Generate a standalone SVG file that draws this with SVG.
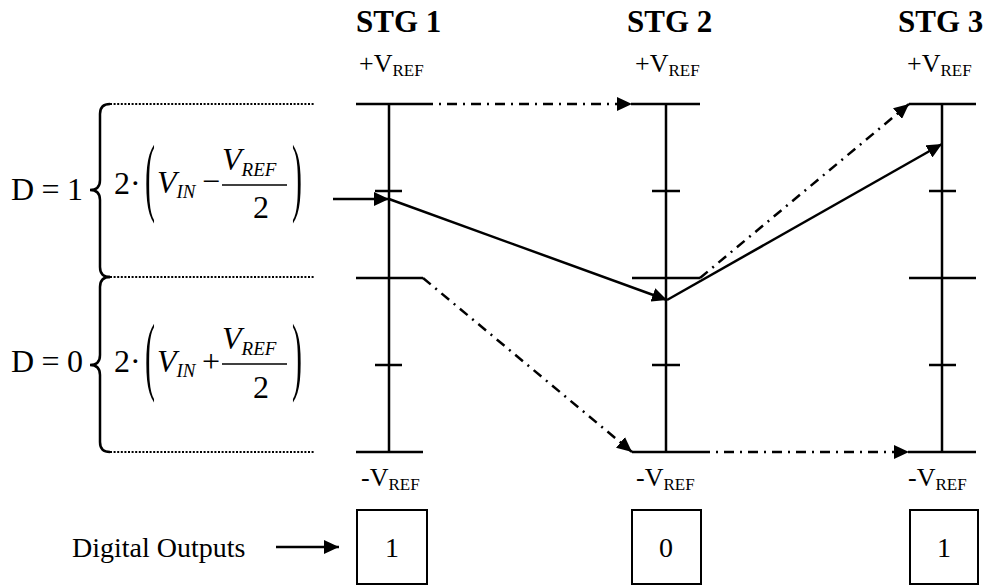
<svg xmlns="http://www.w3.org/2000/svg" width="988" height="586" viewBox="0 0 988 586" font-family="'Liberation Serif', 'Times New Roman', serif">
<style>
text{font-family:"Liberation Serif","Times New Roman",serif;fill:#000}
.ln{stroke:#000;stroke-width:2.5;fill:none}
.dd{stroke:#000;stroke-width:2.5;fill:none;stroke-dasharray:10 6 2 6}
.dot{stroke:#000;stroke-width:2;fill:none;stroke-dasharray:2 1.6}
.stg{font-weight:bold;font-size:31px}
.ref{font-size:26px}
.it{font-style:italic}
.box{stroke:#000;stroke-width:2;fill:#fff}
</style>
<defs>
<marker id="ah" viewBox="0 0 15 14" refX="15" refY="7" markerWidth="15" markerHeight="14" markerUnits="userSpaceOnUse" orient="auto"><path d="M0,0 L15,7 L0,14 z" fill="#000"/></marker>
</defs>

<g id="stage1">
<text class="stg" x="356" y="32">STG 1</text>
<text class="ref" x="359" y="72">+V<tspan font-size="17" dy="4">REF</tspan></text>
<path class="ln" d="M389,104 V452 M356,104 H423 M356,278 H423 M356,452 H423 M375,191 H402 M375,365 H402"/>
<text class="ref" x="361" y="486">-V<tspan font-size="17" dy="4">REF</tspan></text>
</g>

<g id="stage2">
<text class="stg" x="627" y="32">STG 2</text>
<text class="ref" x="635" y="72">+V<tspan font-size="17" dy="4">REF</tspan></text>
<path class="ln" d="M666,104 V452 M632,104 H700 M632,278 H700 M632,452 H700 M652,191 H680 M652,365 H680"/>
<text class="ref" x="636" y="486">-V<tspan font-size="17" dy="4">REF</tspan></text>
</g>

<g id="stage3">
<text class="stg" x="898" y="32">STG 3</text>
<text class="ref" x="907" y="72">+V<tspan font-size="17" dy="4">REF</tspan></text>
<path class="ln" d="M942,104 V452 M909,104 H976 M909,278 H976 M909,452 H976 M929,191 H956 M929,365 H956"/>
<text class="ref" x="908" y="486">-V<tspan font-size="17" dy="4">REF</tspan></text>
</g>

<g id="eq-d1">
<text x="11" y="200" font-size="32" textLength="72" lengthAdjust="spacing">D = 1</text>
<path class="ln" d="M110,104 Q100,104 100,114 V180 Q100,190 90,190 Q100,190 100,200 V267 Q100,277 110,277"/>
<path class="dot" d="M110,104 H315 M110,277 H315"/>
<text x="114" y="194" font-size="32">2·</text>
<text font-size="30" transform="translate(145,205) scale(1,2.9)">(</text>
<text x="157" y="193" font-size="32" class="it">V<tspan font-size="19" dy="5">IN</tspan></text>
<text x="202" y="192" font-size="32">−</text>
<text x="222" y="170" font-size="32" class="it">V<tspan font-size="19" dy="6">REF</tspan></text>
<path d="M222,185 H287" stroke="#000" stroke-width="1.5"/>
<text x="253" y="218" font-size="32">2</text>
<text font-size="30" transform="translate(292,205) scale(1,2.9)">)</text>
</g>

<g id="eq-d0">
<text x="11" y="372" font-size="32" textLength="72" lengthAdjust="spacing">D = 0</text>
<path class="ln" d="M110,277 Q100,277 100,287 V355 Q100,365 90,365 Q100,365 100,375 V442 Q100,452 110,452"/>
<path class="dot" d="M110,452 H315"/>
<text x="114" y="372" font-size="32">2·</text>
<text font-size="30" transform="translate(145,384) scale(1,2.9)">(</text>
<text x="157" y="372" font-size="32" class="it">V<tspan font-size="19" dy="5">IN</tspan></text>
<text x="202" y="372" font-size="32">+</text>
<text x="222" y="349" font-size="32" class="it">V<tspan font-size="19" dy="6">REF</tspan></text>
<path d="M222,364 H287" stroke="#000" stroke-width="1.5"/>
<text x="253" y="398" font-size="32">2</text>
<text font-size="30" transform="translate(292,384) scale(1,2.9)">)</text>
</g>

<g id="outputs">
<text x="72" y="557" font-size="28">Digital Outputs</text>
<rect class="box" x="357" y="510" width="70" height="74"/>
<text x="392" y="557" font-size="28" text-anchor="middle">1</text>
<rect class="box" x="632" y="510" width="69" height="74"/>
<text x="666" y="557" font-size="28" text-anchor="middle">0</text>
<rect class="box" x="910" y="510" width="68" height="74"/>
<text x="944" y="557" font-size="28" text-anchor="middle">1</text>
</g>

<g id="connectors">
<path class="dd" d="M423,104 L632,104" marker-end="url(#ah)"/>
<path class="dd" d="M423,278 L632,452" marker-end="url(#ah)"/>
<path class="dd" d="M700,452 L909,452" marker-end="url(#ah)"/>
<path class="dd" d="M700,278 L909,104" marker-end="url(#ah)"/>
<path class="ln" d="M333,199 L389,199" marker-end="url(#ah)"/>
<path class="ln" d="M389,199 L667,300" marker-end="url(#ah)"/>
<path class="ln" d="M667,300 L942,144" marker-end="url(#ah)"/>
<path class="ln" d="M276,547 L339,547" marker-end="url(#ah)"/>
</g>
</svg>
